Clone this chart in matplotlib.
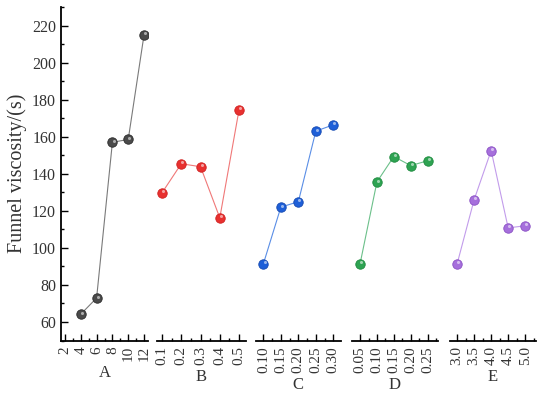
import matplotlib.pyplot as plt
import matplotlib.transforms as mtransforms
from matplotlib.ticker import MultipleLocator, FixedLocator

# data per factor
factors = ["A", "B", "C", "D", "E"]
levels = [
    [4, 6, 8, 10, 12],
    [0.1, 0.2, 0.3, 0.4, 0.5],
    [0.10, 0.15, 0.20, 0.25, 0.30],
    [0.05, 0.10, 0.15, 0.20, 0.25],
    [3.0, 3.5, 4.0, 4.5, 5.0],
]
viscosity = [
    [64.2, 72.9, 157.0, 158.5, 215.0],
    [129.7, 145.4, 143.8, 116.2, 174.6],
    [91.4, 122.0, 124.9, 163.0, 166.4],
    [91.4, 135.6, 149.3, 144.4, 147.0],
    [91.4, 126.0, 152.5, 110.8, 111.9],
]
tick_vals = [
    [2, 4, 6, 8, 10, 12],
    [0.1, 0.2, 0.3, 0.4, 0.5],
    [0.10, 0.15, 0.20, 0.25, 0.30],
    [0.05, 0.10, 0.15, 0.20, 0.25],
    [3.0, 3.5, 4.0, 4.5, 5.0],
]
tick_text = [
    ["2", "4", "6", "8", "10", "12"],
    ["0.1", "0.2", "0.3", "0.4", "0.5"],
    ["0.10", "0.15", "0.20", "0.25", "0.30"],
    ["0.05", "0.10", "0.15", "0.20", "0.25"],
    ["3.0", "3.5", "4.0", "4.5", "5.0"],
]
xlims = [(1.5, 12.5), (0.074, 0.536), (0.078, 0.322), (0.027, 0.280), (2.79, 5.31)]
minor_steps = [1, 0.05, 0.025, 0.025, 0.25]

face_colors = ["#4a4a4a", "#e8302f", "#1e5fd8", "#2ea352", "#a66fdc"]
edge_colors = ["#2a2a2a", "#d02020", "#1448b0", "#1d8a3e", "#8a50c4"]
line_colors = ["#7a7a7a", "#f07878", "#5a8ee6", "#6cc08a", "#c29ceb"]

plt.rcParams['font.family'] = ['Liberation Serif', 'DejaVu Serif']
text_color = "#333333"

W, H = 550, 395
fig = plt.figure(figsize=(5.5, 3.95), dpi=100)

# panel extents in pixels (left, right)
panels_px = [(61, 148), (157, 246), (255.7, 341), (352.3, 437.7), (450, 535.7)]
bottom_px, top_px = 340.5, 7

for i, (l, r) in enumerate(panels_px):
    ax = fig.add_axes([l / W, 1 - bottom_px / H, (r - l) / W, (bottom_px - top_px) / H])
    ax.plot(levels[i], viscosity[i], color=line_colors[i], lw=0.8, zorder=2)
    ax.plot(levels[i], viscosity[i], 'o', ms=6.8, mfc=face_colors[i],
            mec=edge_colors[i], mew=0.6, ls='none', zorder=3)
    # small highlight to imitate the shaded spheres
    hl = mtransforms.offset_copy(ax.transData, fig=fig, x=0.8, y=1.0, units='points')
    ax.plot(levels[i], viscosity[i], 'o', ms=2.2, mfc='white', mec='none',
            alpha=0.55, ls='none', zorder=4, transform=hl)

    ax.set_xlim(*xlims[i])
    ax.set_ylim(50, 230)
    ax.xaxis.set_major_locator(FixedLocator(tick_vals[i]))
    ax.set_xticklabels(tick_text[i], rotation=90, fontsize=11, color=text_color)
    ax.xaxis.set_minor_locator(MultipleLocator(minor_steps[i]))
    ax.tick_params(axis='x', which='both', direction='in', width=1.0, pad=4)
    ax.tick_params(axis='x', which='major', length=5)
    ax.tick_params(axis='x', which='minor', length=2.5)
    ax.set_xlabel(factors[i], fontsize=12, labelpad=3, color=text_color)

    for s in ['top', 'right']:
        ax.spines[s].set_visible(False)
    ax.spines['bottom'].set_linewidth(1.3)
    ax.patch.set_alpha(0)

    if i == 0:
        ax.spines['left'].set_linewidth(1.3)
        ax.yaxis.set_major_locator(MultipleLocator(20))
        ax.yaxis.set_minor_locator(MultipleLocator(10))
        ax.tick_params(axis='y', which='both', direction='in', width=1.0,
                       labelsize=11.5, labelcolor=text_color)
        ax.tick_params(axis='y', which='major', length=5)
        ax.tick_params(axis='y', which='minor', length=2.5)
        ax.set_yticks([60, 80, 100, 120, 140, 160, 180, 200, 220])
        ax.set_ylabel("Funnel viscosity/(s)", fontsize=14.5, color=text_color, labelpad=4)
    else:
        ax.spines['left'].set_visible(False)
        ax.tick_params(axis='y', which='both', left=False, labelleft=False)

fig.savefig("out.png", dpi=100)
